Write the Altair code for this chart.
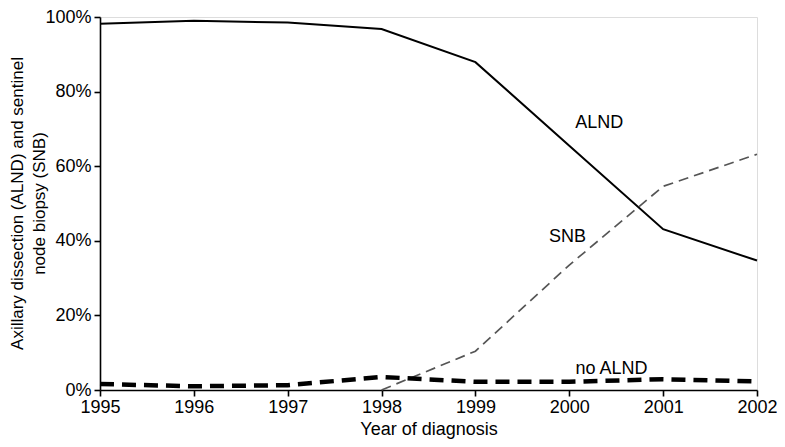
import altair as alt
import pandas as pd

years = [1995, 1996, 1997, 1998, 1999, 2000, 2001, 2002]
alnd = [98.2, 99.0, 98.5, 96.8, 87.9, 65.5, 43.1, 34.7]
snb_years = [1998, 1999, 2000, 2001, 2002]
snb = [0.0, 10.4, 33.5, 54.6, 63.2]
no_alnd = [1.6, 1.0, 1.3, 3.5, 2.2, 2.2, 2.9, 2.3]

label_text = ["ALND", "SNB", "no ALND"]
label_x = [2000.32, 1999.98, 2000.45]
label_y = [71.5, 41.0, 5.7]

df_alnd = pd.DataFrame({"year": years, "value": alnd})
df_snb = pd.DataFrame({"year": snb_years, "value": snb})
df_no = pd.DataFrame({"year": years, "value": no_alnd})
labels = pd.DataFrame({"text": label_text, "year": label_x, "value": label_y})

FONT = "Liberation Sans"

x = alt.X("year:Q", scale=alt.Scale(domain=[1995, 2002], nice=False),
          axis=alt.Axis(title="Year of diagnosis", values=years, format="d",
                        grid=False, labelFontSize=18, titleFontSize=18,
                        titleFontWeight="normal", labelFont=FONT, titleFont=FONT,
                        labelColor="black", titleColor="black",
                        domainColor="black", domainWidth=1.6, tickColor="black",
                        tickWidth=1.6, tickSize=6, labelPadding=2, titlePadding=4,
                        labelFlush=False))
y = alt.Y("value:Q", scale=alt.Scale(domain=[0, 100], nice=False),
          axis=alt.Axis(title=["Axillary dissection (ALND) and sentinel", "node biopsy (SNB)"],
                        values=[0, 20, 40, 60, 80, 100], labelExpr="datum.value + '%'",
                        grid=False, labelFontSize=18, titleFontSize=17,
                        titleFontWeight="normal", labelFont=FONT, titleFont=FONT,
                        labelColor="black", titleColor="black",
                        domainColor="black", domainWidth=1.6, tickColor="black",
                        tickWidth=1.6, tickSize=6, labelPadding=3,
                        titleX=-83, titleY=186, titleAngle=-90, titleAlign="center",
                        titleBaseline="middle", titleLineHeight=22))

line_alnd = alt.Chart(df_alnd).mark_line(color="black", strokeWidth=2).encode(x=x, y=y)
line_snb = alt.Chart(df_snb).mark_line(color="#555555", strokeWidth=1.7,
                                       strokeDash=[10, 6]).encode(x="year:Q", y="value:Q")
line_no = alt.Chart(df_no).mark_line(color="black", strokeWidth=4.5,
                                     strokeDash=[14, 8]).encode(x="year:Q", y="value:Q")

text = alt.Chart(labels).mark_text(font=FONT, fontSize=18, color="black", align="center",
                                   baseline="middle").encode(
    x="year:Q", y="value:Q", text="text:N")

chart = alt.layer(line_alnd, line_snb, line_no, text).properties(
    width=657, height=373,
    autosize=alt.AutoSizeParams(type="none"),
    padding={"left": 92, "top": 9, "right": 20, "bottom": 49},
).configure_view(stroke=None).configure(background="white")

chart.save("out.html", embed_options={"renderer": "svg", "actions": False})
